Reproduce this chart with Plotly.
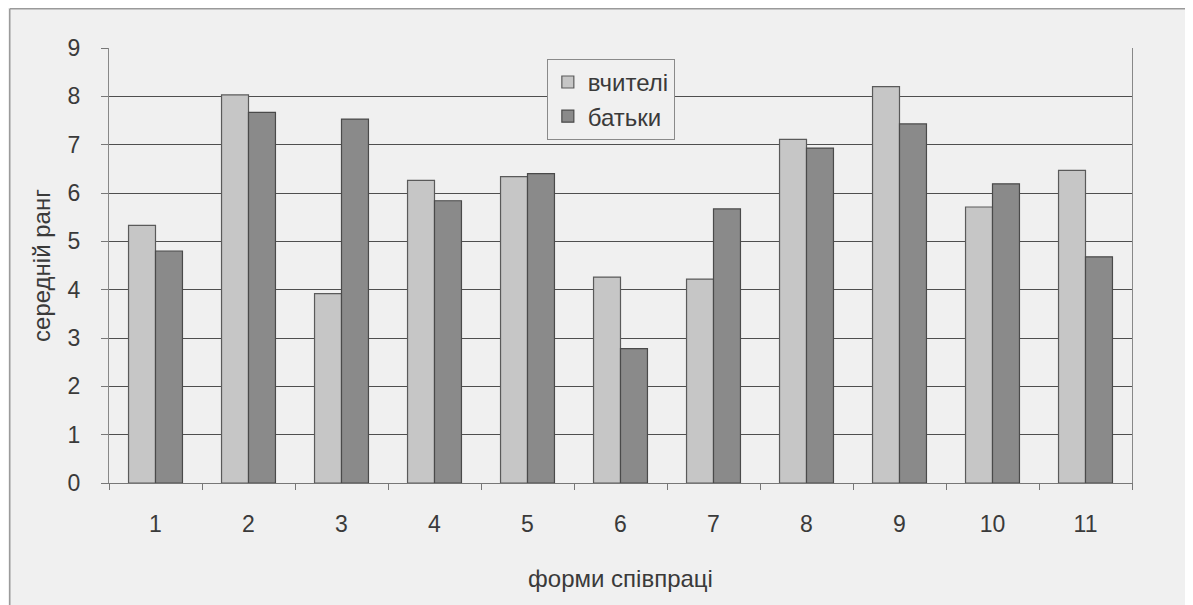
import plotly.graph_objects as go

categories = ["1", "2", "3", "4", "5", "6", "7", "8", "9", "10", "11"]
teachers = [5.33, 8.03, 3.92, 6.26, 6.34, 4.26, 4.22, 7.11, 8.20, 5.71, 6.47]
parents = [4.80, 7.67, 7.53, 5.84, 6.40, 2.78, 5.67, 6.93, 7.43, 6.19, 4.68]
series_names = ["вчителі", "батьки"]
y_ticks = list(range(0, 10))

font_family = "Liberation Sans, Arial, sans-serif"
text_color = "#3a3a3a"

fig = go.Figure()
fig.add_trace(go.Bar(x=categories, y=teachers, name=series_names[0],
                     marker=dict(color="#c6c6c6", line=dict(color="#5a5a5a", width=1.2))))
fig.add_trace(go.Bar(x=categories, y=parents, name=series_names[1],
                     marker=dict(color="#8a8a8a", line=dict(color="#4a4a4a", width=1.2))))

fig.update_layout(
    width=1193, height=605,
    margin=dict(l=101, r=69, t=40, b=130),
    paper_bgcolor="#f0f0f0", plot_bgcolor="#f0f0f0",
    barmode="group", bargap=0.42, bargroupgap=0,
    font=dict(family=font_family, size=22, color=text_color),
    showlegend=True,
    legend=dict(x=0.428, y=0.975, xanchor="left", yanchor="top",
                bgcolor="#f0f0f0", bordercolor="#8a8a8a", borderwidth=1,
                font=dict(family=font_family, size=24, color=text_color),
                tracegroupgap=2, itemwidth=30),
    xaxis=dict(type="category", tickson="boundaries", ticks="outside", ticklen=6,
               tickcolor="#777", showline=True, linecolor="#777", linewidth=1,
               showgrid=False, ticklabelstandoff=20,
               tickfont=dict(family=font_family, size=23, color=text_color),
               title=dict(text="форми співпраці",
                          font=dict(family=font_family, size=24, color=text_color),
                          standoff=34)),
    yaxis=dict(range=[0, 9], tickvals=y_ticks, ticks="outside", ticklen=7,
               tickcolor="#777", showline=True, linecolor="#888", linewidth=1,
               mirror=True, showgrid=True, gridcolor="#4f4f4f", gridwidth=1,
               ticklabelstandoff=16, zeroline=False,
               tickfont=dict(family=font_family, size=23, color=text_color),
               title=dict(text="середній ранг",
                          font=dict(family=font_family, size=24, color=text_color),
                          standoff=10)),
)

fig.add_shape(type="line", xref="paper", yref="paper",
              x0=-0.097, x1=1.07, y0=1.09, y1=1.09,
              line=dict(color="#9a9a9a", width=1.5), layer="below")
fig.add_shape(type="line", xref="paper", yref="paper",
              x0=-0.097, x1=-0.097, y0=-0.3, y1=1.09,
              line=dict(color="#9a9a9a", width=1.5), layer="below")

fig.write_html("out.html")
